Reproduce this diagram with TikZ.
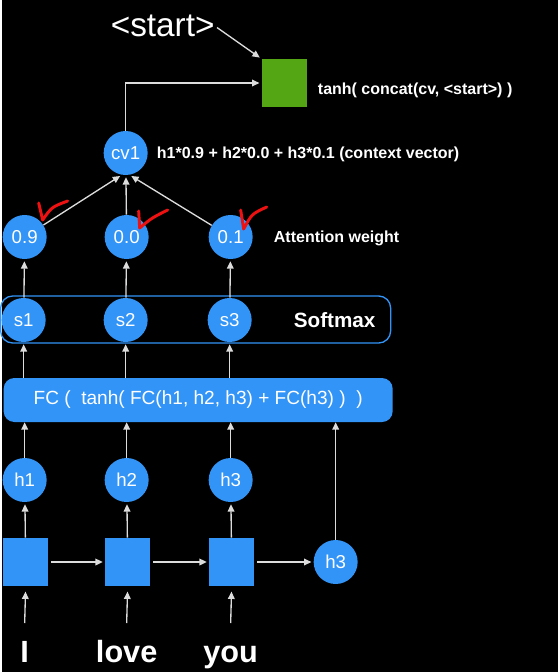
\documentclass[tikz,border=0pt]{standalone}
\usepackage{fontspec}
\setmainfont{Liberation Sans}
\usetikzlibrary{arrows.meta}
\definecolor{cellblue}{HTML}{3394F7}
\definecolor{ctxgreen}{HTML}{55A614}
\definecolor{wireink}{HTML}{DCDCDC}
\definecolor{tickred}{HTML}{EE1111}

\begin{document}
\begin{tikzpicture}[
  x=0.75pt, y=-0.75pt,
  every node/.style={text=white, inner sep=0pt},
  wire/.style={wireink, line width=1pt, -{Triangle[length=5.5pt, width=5pt]},
               shorten >=1.5pt},
  unit/.style={circle, fill=cellblue, minimum size=33pt,
               font=\fontsize{14}{16}\selectfont},
  cell/.style={rectangle, fill=cellblue, minimum width=34pt, minimum height=36pt},
  word/.style={anchor=base, font=\fontsize{23}{26}\selectfont\bfseries},
  note/.style={anchor=west, font=\fontsize{12}{14}\selectfont\bfseries},
  check/.style={tickred, line width=2.2pt, line cap=round, line join=round}
]

\fill[black] (0,0) rectangle (556,672);

%% ==== encoder: words, cells, hidden states ==========================
\foreach \n/\x/\w in {1/23/I, 2/125/love, 3/229/you} {
  \node[word] (w\n) at (\x,662) {\w};
  \coordinate (in\n) at (\x,623);
  \node[cell] (c\n) at (\x+1,562) {};
  \node[unit] (h\n) at (\x,480) {h\n};
}
\node[unit] (hl) at (334,562) {h3};

\foreach \n in {1,2,3} {
  \draw[wire, shorten >=4pt] (in\n) -- (c\n.south);
  \draw[wire] (c\n) -- (h\n);
}
\draw[wire, shorten <=2pt] (c1.east) -- (c2.west);
\draw[wire, shorten <=2pt] (c2.east) -- (c3.west);
\draw[wire, shorten <=2pt] (c3.east) -- (hl.west);

%% ==== score layer ===================================================
\node[fill=cellblue, rounded corners=8pt, minimum width=291.75pt,
      minimum height=33pt, font=\fontsize{14.3}{16}\selectfont] (fc) at (196.5,400)
  {FC (\ \ tanh( FC(h1, h2, h3) + FC(h3) )\ \ )};

\foreach \n in {1,2,3}
  \draw[wire, shorten >=0pt] (h\n) -- (h\n |- fc.south);
\draw[wire, shorten >=0pt] (hl) -- (hl |- fc.south);

%% ==== softmax and attention weights =================================
\node[draw=cellblue, line width=1pt, rounded corners=9pt,
      minimum width=292.5pt, minimum height=35.25pt] (smx) at (194,319.5) {};
\node[font=\fontsize{15.5}{18}\selectfont\bfseries] (smxlabel) at (333,320) {Softmax};

\foreach \n/\x/\t in {1/22/0.9, 2/124/0.0, 3/228/0.1} {
  \node[unit] (s\n) at (\x,320) {s\n};
  \node[unit] (a\n) at (\x+1,237) {\t};
  \draw[wire] (fc.north -| s\n) -- (s\n);
  \draw[wire] (s\n) -- (a\n);
}
\node[note] (attlabel) at (272,238) {Attention weight};

%% ==== context vector and decoder input ==============================
\node[unit] (cv1) at (124,153) {cv1};
\node[note] (cvlabel) at (155,154) {h1*0.9 + h2*0.0 + h3*0.1 (context vector)};

\draw[wire] (a1) -- (cv1.-100);
\draw[wire] (a2) -- (cv1);
\draw[wire] (a3) -- (cv1.-80);

\node[fill=ctxgreen, minimum width=33.75pt, minimum height=36pt] (ctx) at (282.5,83) {};
\node[note] (ctxlabel) at (316,90) {tanh( concat(cv, <start>) )};
\node[font=\fontsize{25}{28}\selectfont] (start) at (161,26) {<start>};

\draw[wire] (cv1.north) |- (ctx.west);
\draw[wire, shorten <=2pt] (start.east) -- (ctx.north west);

%% ==== red ticks =====================================================
\draw[check] (37,203) .. controls (39,212) .. (41,220) .. controls (50,207) .. (66,201);
\draw[check] (137,211) .. controls (138,220) .. (138,228) .. controls (150,218) .. (166,210);
\draw[check] (239,210) .. controls (240,220) .. (242,229) .. controls (250,214) .. (265,207);

\end{tikzpicture}
\end{document}
